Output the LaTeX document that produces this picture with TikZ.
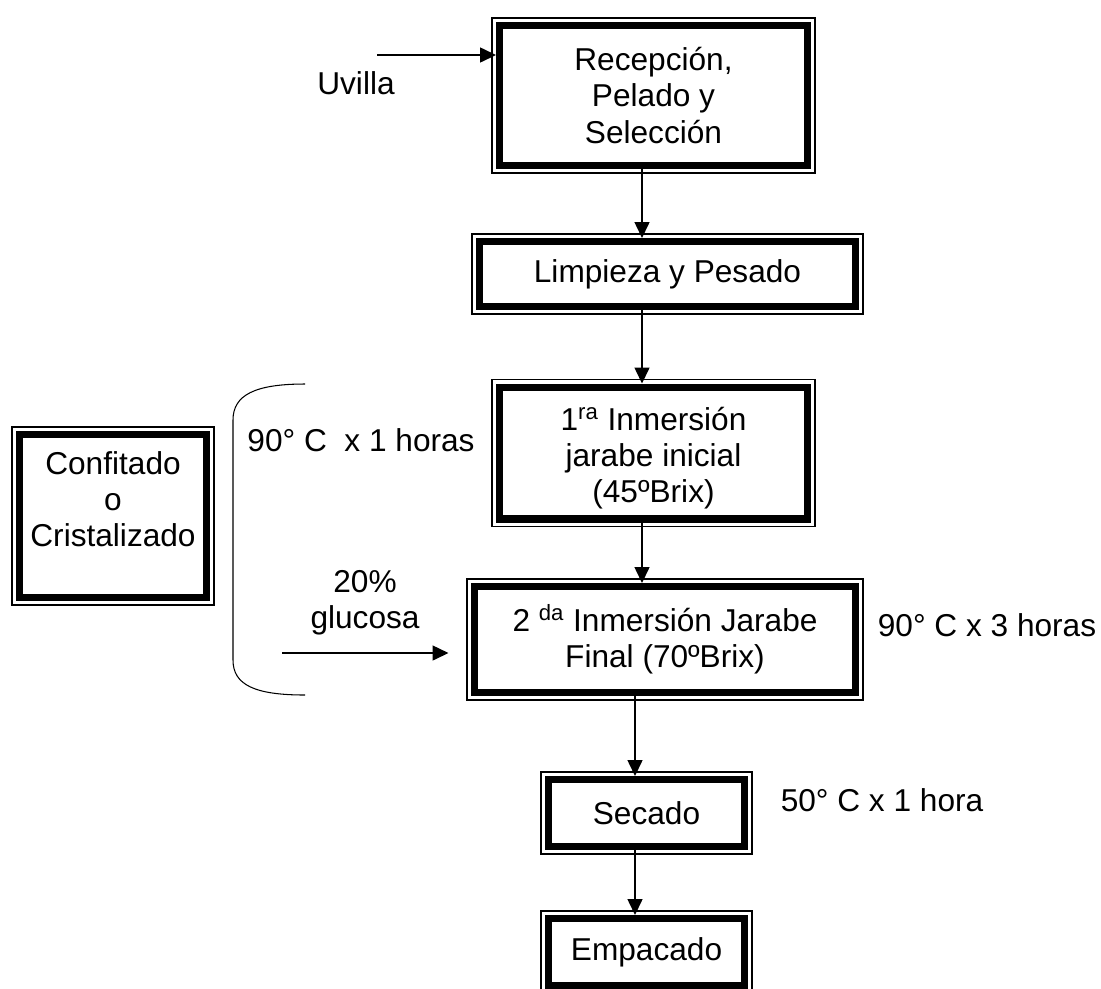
\documentclass[tikz,border=0pt]{standalone}
\usepackage{fontspec}
\setmainfont{Liberation Sans}
\usetikzlibrary{arrows.meta, positioning}
\tikzset{
	procbox/.style={draw, line width=4pt, outer sep=0pt, inner sep=0pt, align=center},
	frame/.style={line width=0.8pt},
	flow/.style={line width=0.85pt, shorten >=0.07cm, -{Triangle[length=0.32cm,width=0.3cm]}},
	lbl/.style={align=center, inner sep=0pt}
}

\begin{document}
\begin{tikzpicture}[x=0.02cm, y=-0.02cm, font=\fontsize{18}{20.5}\selectfont]
		\useasboundingbox (0,0) rectangle (1101,988);
		\draw (653.5,95.5) node[procbox, minimum width=6.16cm, minimum height=2.8cm] (rec) {Recepción,\\Pelado y\\Selección}
		(667.5,274) node[procbox, minimum width=7.52cm, minimum height=1.3cm] (limp) {Limpieza y Pesado}
		(653.5,453) node[procbox, minimum width=6.16cm, minimum height=2.64cm] (inm1) {\raisebox{-0.12cm}[\height][\depth]{\begin{tabular}{@{}c@{}}1\textsuperscript{ra} Inmersión\\jarabe inicial\\(45ºBrix)\end{tabular}}}
		(665,639.5) node[procbox, minimum width=7.62cm, minimum height=2.12cm] (inm2) {2 \textsuperscript{da} Inmersión Jarabe\\Final (70ºBrix)}
		(646.5,813) node[procbox, minimum width=3.92cm, minimum height=1.34cm] (sec) {Secado}
		(646.5,952) node[procbox, minimum width=3.92cm, minimum height=1.34cm] (emp) {Empacado}
		(113,516) node[procbox, minimum width=3.74cm, minimum height=3.26cm] (conf) {\raisebox{0.26cm}[\height][\depth]{\begin{tabular}{@{}c@{}}Confitado\\o\\Cristalizado\end{tabular}}};
		
		% outer thin line of every box
		\foreach \n in {rec,limp,inm1,inm2,sec,emp,conf}
			\draw[frame] ([shift={(-0.15cm,0.15cm)}]\n.north west) rectangle ([shift={(0.15cm,-0.15cm)}]\n.south east);
		
		\node[lbl] (uvilla) at (356,83) {Uvilla};
		\node[lbl] (t1) at (361,440) {90° C\ \ x 1 horas};
		\node[lbl] (gluc) at (365,603) {20\%\\glucosa};
		\node[lbl] (t3) at (987,625) {90° C x 3 horas};
		\node[lbl] (t2) at (882,800) {50° C x 1 hora};
		
		\coordinate (uv) at (377,55);
		\coordinate (gl1) at (282,653);
		\coordinate (gl2) at (452,653);
		\coordinate (axis) at (642,0);
		\coordinate (axis2) at (635,0);
		
		\draw[flow] (uv) -- (uv -| rec.west);
		\draw[flow] (gl1) -- (gl2);
		\draw[flow] (rec.south -| axis) -- (limp.north -| axis);
		\draw[flow] (limp.south -| axis) -- (inm1.north -| axis);
		\draw[flow] (inm1.south -| axis) -- (inm2.north -| axis);
		\draw[flow] (inm2.south -| axis2) -- (sec.north -| axis2);
		\draw[flow] (sec.south -| axis2) -- (emp.north -| axis2);
		
		% brace
		\draw[line width=0.6pt] (305,384) .. controls (255,384) and (233,395) .. (233,420) -- (233,660) .. controls (233,685) and (255,695) .. (305,695);
	\end{tikzpicture}
\end{document}
